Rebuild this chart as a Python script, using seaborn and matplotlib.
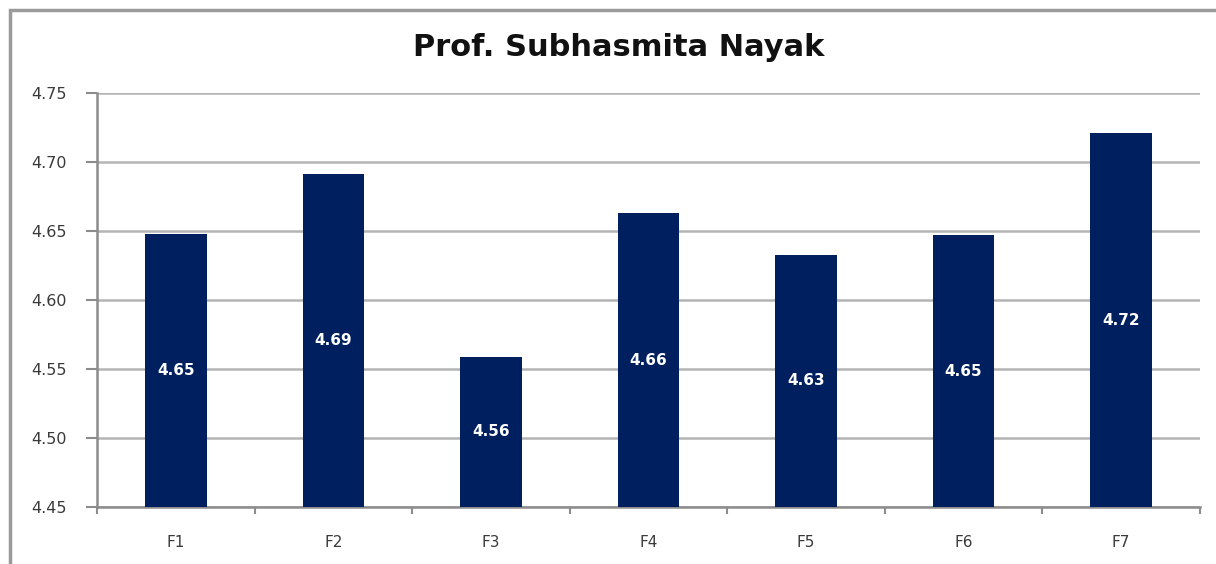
import numpy as np
import pandas as pd
import matplotlib
matplotlib.use("Agg")
import matplotlib.pyplot as plt
import seaborn as sns
from matplotlib.patches import Rectangle

# chart values
categories = ["F1", "F2", "F3", "F4", "F5", "F6", "F7"]
scores = [4.648, 4.691, 4.559, 4.663, 4.633, 4.647, 4.721]
labels = ["4.65", "4.69", "4.56", "4.66", "4.63", "4.65", "4.72"]
y_ticks = [4.45, 4.50, 4.55, 4.60, 4.65, 4.70, 4.75]

df = pd.DataFrame({"faculty": categories, "score": scores})

sns.set_style("white")
plt.rcParams["font.family"] = ["DejaVu Sans"]

fig = plt.figure(figsize=(12.16, 5.64), dpi=100)
ax = fig.add_axes([0.0798, 0.101, 0.907, 0.734])

# outer chart frame (cut off at right/bottom like the screenshot)
fig.patches.append(Rectangle((10 / 1216, -0.05), 1.2, 1 - 10 / 564 + 0.05,
                             transform=fig.transFigure, fill=False,
                             edgecolor="#9a9a9a", linewidth=2.5))

sns.barplot(data=df, x="faculty", y="score", color="#001f5f",
            width=0.39, saturation=1, linewidth=0, ax=ax, zorder=3)

ax.set_ylim(4.45, 4.75)
ax.set_yticks(y_ticks)
ax.set_yticklabels([f"{t:.2f}" for t in y_ticks])
ax.set_xlim(-0.5, len(categories) - 0.5)
ax.yaxis.grid(True, color="#b4b4b4", linewidth=1.8, zorder=0)
ax.set_axisbelow(True)

for i, (v, lab) in enumerate(zip(scores, labels)):
    ax.text(i, (4.45 + v) / 2, lab, ha="center", va="center",
            color="white", fontsize=11, fontweight="bold", zorder=4)

for s in ["top", "right"]:
    ax.spines[s].set_visible(False)
for s in ["left", "bottom"]:
    ax.spines[s].set_color("#8c8c8c")
    ax.spines[s].set_linewidth(1.8)

# category separator ticks on x axis
ax.set_xticks(np.arange(len(categories)))
ax.set_xticklabels(categories)
ax.set_xticks(np.arange(len(categories) + 1) - 0.5, minor=True)
ax.tick_params(axis="x", which="major", bottom=True, length=0, pad=20,
               labelsize=11, labelcolor="#3a3a3a")
ax.tick_params(axis="x", which="minor", bottom=True, length=5, width=1.5,
               color="#8c8c8c", direction="out")
ax.tick_params(axis="y", left=True, length=8, width=1.5, color="#8c8c8c",
               direction="out", labelsize=11.5, labelcolor="#3a3a3a", pad=14)
ax.set_xlabel("")
ax.set_ylabel("")

fig.text(0.509, 1 - 47 / 564, "Prof. Subhasmita Nayak", ha="center", va="center",
         fontsize=22, fontweight="bold", color="#111111")

fig.savefig("out.png", dpi=100)
